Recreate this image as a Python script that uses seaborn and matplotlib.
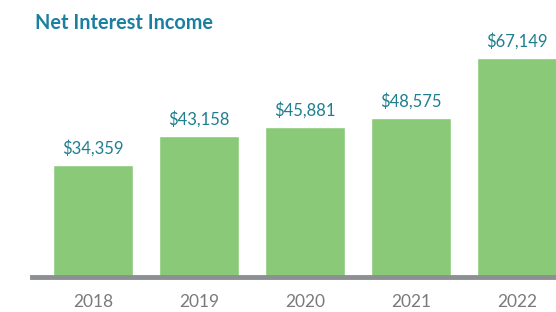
import matplotlib
matplotlib.use("Agg")
import matplotlib.pyplot as plt
import seaborn as sns
import pandas as pd

years = ["2018", "2019", "2020", "2021", "2022"]
values = [34359, 43158, 45881, 48575, 67149]
labels = ["$34,359", "$43,158", "$45,881", "$48,575", "$67,149"]
title = "Net Interest Income"

sns.set_theme(style="white")
plt.rcParams["font.family"] = ["Lato", "DejaVu Sans"]

df = pd.DataFrame({"year": years, "value": values})

fig = plt.figure(figsize=(5.56, 3.12), dpi=100)
ax = fig.add_axes([32/556, 35/312, 1 - 32/556, 237/312])
sns.barplot(data=df, x="year", y="value", color="#8ac978", saturation=1,
            width=0.755, ax=ax)
ax.set_xlim(-0.575, 4.37)
ax.set_ylim(0, 72600)

for i, (v, lab) in enumerate(zip(values, labels)):
    ax.text(i, v + 2600, lab, ha="center", va="bottom", fontsize=12,
            color="#1f7f8f")

for s in ["top", "right", "left"]:
    ax.spines[s].set_visible(False)
ax.spines["bottom"].set_color("#8c9093")
ax.spines["bottom"].set_linewidth(3.5)
ax.set_yticks([])
ax.set_xlabel("")
ax.set_ylabel("")
ax.tick_params(axis="x", length=0, pad=12, labelsize=12.5, labelcolor="#7a7a7a")

fig.text(35/556, 1 - 23/312, title, ha="left", va="center", fontsize=14.3,
         fontweight="bold", color="#1a7fa0")

fig.savefig("out.png", dpi=100)
